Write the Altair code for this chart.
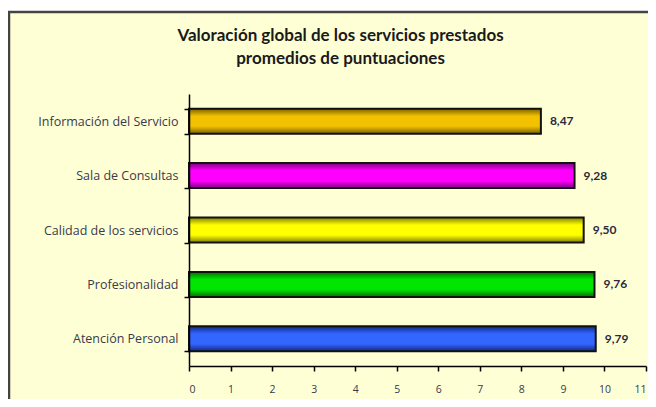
import altair as alt
import pandas as pd

categories = ["Información del Servicio", "Sala de Consultas", "Calidad de los servicios",
              "Profesionalidad", "Atención Personal"]
values = [8.47, 9.28, 9.50, 9.76, 9.79]
bar_colors = ["#F2C200", "#FF00FF", "#FFFF00", "#00E600", "#3366FF"]
dark_colors = ["#7A6000", "#800080", "#808000", "#007000", "#102a80"]
x_ticks = list(range(0, 12))
title_lines = ["Valoración global de los servicios prestados", "promedios de puntuaciones"]

df = pd.DataFrame({"cat": categories, "val": values})

FONT = "Open Sans"
TFONT = "Lato"

y_enc = alt.Y("cat:N", sort=categories,
              scale=alt.Scale(paddingInner=0.54, paddingOuter=0.27),
              axis=alt.Axis(title=None, tickBand="extent", tickSize=5, tickColor="black",
                            domainColor="black", domainWidth=1.5, tickWidth=1.5,
                            labelFont=FONT, labelFontSize=12.5, labelColor="#3a3a4a",
                            labelPadding=6, zindex=2))
x_scale = alt.Scale(domain=[0, 11], nice=False)
x_enc = alt.X("val:Q", scale=x_scale,
              axis=alt.Axis(title=None, values=x_ticks, tickSize=5, tickColor="black",
                            domainColor="black", domainWidth=1.5, tickWidth=1.5,
                            labelFont=FONT, labelFontSize=10.5, labelColor="#3a3a4a",
                            labelPadding=13, labelFlush=True, grid=False, zindex=2))

frame = alt.Chart(pd.DataFrame({"a": [0]})).mark_rect(
    fill="#FFFFD6", stroke="#444444", strokeWidth=2.5
).encode(x=alt.value(-180), y=alt.value(-82), x2=alt.value(470), y2=alt.value(320))

layers = [frame]
for cat, c, d in zip(categories, bar_colors, dark_colors):
    grad = alt.LinearGradient(gradient="linear", x1=0, x2=0, y1=0, y2=1,
                              stops=[alt.GradientStop(offset=0, color=d),
                                     alt.GradientStop(offset=0.3, color=c),
                                     alt.GradientStop(offset=0.7, color=c),
                                     alt.GradientStop(offset=1, color=d)])
    layers.append(
        alt.Chart(df).transform_filter(alt.datum.cat == cat)
        .mark_bar(color=grad, stroke="#111111", strokeWidth=2)
        .encode(x=x_enc, y=y_enc)
    )

labels = alt.Chart(df).transform_calculate(
    lbl="replace(format(datum.val, '.2f'), '.', ',')"
).mark_text(align="left", dx=9, fontWeight="bold", font=TFONT, fontSize=12,
            color="#2a2a3a").encode(x=alt.X("val:Q", scale=x_scale), y=alt.Y("cat:N", sort=categories),
                                     text="lbl:N")
layers.append(labels)

chart = alt.layer(*layers).properties(
    width=457, height=272,
    autosize=alt.AutoSizeParams(type="none"),
    padding={"left": 181, "top": 86, "right": 2, "bottom": 33},
    background="white",
    title=alt.TitleParams(text=title_lines, font=TFONT, fontSize=17, fontWeight="bold",
                          color="#1a1a1a", anchor="middle", frame="group", dx=-77,
                          offset=-57, lineHeight=23),
).configure_view(stroke=None)

chart.save("out.html", embed_options={"renderer": "svg", "actions": False})
